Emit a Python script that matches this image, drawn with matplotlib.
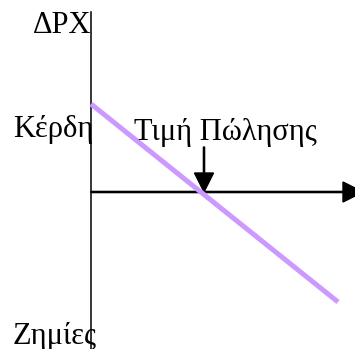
import matplotlib.pyplot as plt

# profit line (Δ profit vs price), origin at the axes crossing
line_x = [0, 247]
line_y = [88, -110]

# price marker
price_x = 113
price_label = 'Τιμή Πώλησης'

y_label = 'ΔPX'
gain_label = 'Κέρδη'
loss_label = 'Ζημίες'

plt.rcParams['font.family'] = ['Liberation Serif', 'DejaVu Serif']

fig = plt.figure(figsize=(3.55, 3.49), dpi=100)
ax = fig.add_axes([0, 0, 1, 1])
ax.set_xlim(-91, 264)
ax.set_ylim(-157, 192)
ax.axis('off')

# axes
ax.plot([0, 0], [180, -157], color='black', lw=1.1)
ax.arrow(0, 0, 272, 0, width=1.2, head_width=20, head_length=20,
         length_includes_head=True, color='black', clip_on=False)

# profit line
ax.plot(line_x, line_y, color='#cc99ff', lw=3.6, solid_capstyle='butt')

# price arrow
ax.arrow(price_x, 45, 0, -45, width=1.2, head_width=19, head_length=19,
         length_includes_head=True, color='black')

fs = 22
ax.text(0, 159, y_label, ha='right', va='baseline', fontsize=fs)
ax.text(3, 55, gain_label, ha='right', va='baseline', fontsize=fs)
ax.text(43, 52, price_label, ha='left', va='baseline', fontsize=fs)
ax.text(-78, -152, loss_label, ha='left', va='baseline', fontsize=fs)

fig.savefig('out.png', dpi=100)
